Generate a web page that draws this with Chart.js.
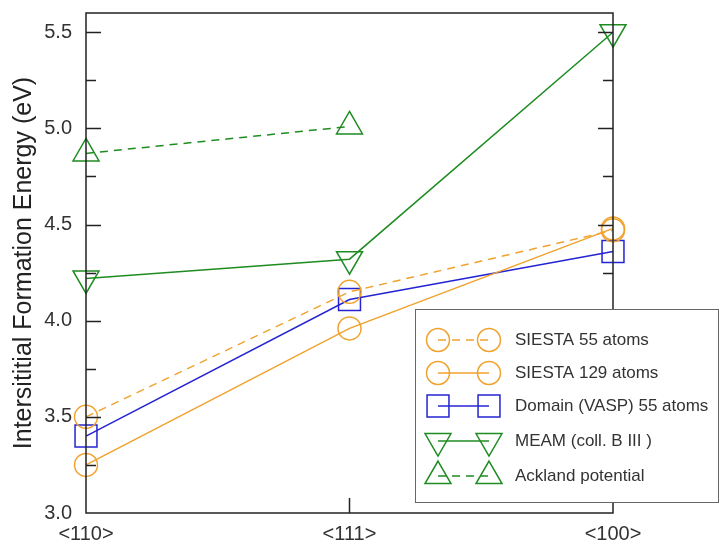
<!DOCTYPE html>
<html>
<head>
<meta charset="utf-8">
<script src="https://cdn.jsdelivr.net/npm/chart.js@4.4.1/dist/chart.umd.min.js"></script>
<style>
html, body { margin: 0; padding: 0; background: #fff; overflow: hidden; }
/* the marker overflow keeps the plot 4px lower than wanted, so lift the canvas */
#energyChart { display: block; margin-top: -4px; }
</style>
</head>
<body>
<canvas id="energyChart" width="721" height="547"></canvas>
<script>
// interstitial formation energy per dumbbell direction (eV)
const directions = ["<110>", "<111>", "<100>"];
const siesta55 = [3.50, 4.15, 4.47];
const siesta129 = [3.25, 3.96, 4.48];
const vaspDomain = [3.40, 4.11, 4.36];
const meam = [4.22, 4.32, 5.50];
const ackland = [4.87, 5.01, null];
const seriesNames = ["SIESTA 55 atoms", "SIESTA 129 atoms", "Domain (VASP) 55 atoms", "MEAM (coll. B III )", "Ackland potential"];

const ORANGE = "#f0a22e";
const BLUE = "#2424d2";
const GREEN = "#1f8c22";
const FONT = "'Liberation Sans', Arial, sans-serif";

function series(label, data, color, style, radius, rotation, dash) {
    return {
        label: label,
        data: data,
        borderColor: color,
        borderWidth: 1.5,
        borderDash: dash,
        backgroundColor: "transparent",
        pointStyle: style,
        pointRadius: radius,
        pointRotation: rotation,
        pointBorderColor: color,
        pointBackgroundColor: "transparent",
        pointBorderWidth: 1.5,
        tension: 0,
        spanGaps: false
    };
}

function noPadding(s) {
    s.paddingLeft = 0;
    s.paddingRight = 0;
    s.paddingTop = 0;
    s.paddingBottom = 0;
}

// box with inward ticks on left, right and bottom
const frameTicks = {
    id: "frameTicks",
    afterDatasetsDraw(chart) {
        const { ctx, chartArea: a, scales } = chart;
        ctx.save();
        ctx.strokeStyle = "#222";
        ctx.lineWidth = 1.5;
        ctx.strokeRect(a.left, a.top, a.right - a.left, a.bottom - a.top);
        for (let k = 1; k <= 10; k++) {
            const py = Math.round(scales.y.getPixelForValue(3 + k * 0.25)) + 0.5;
            const len = k % 2 === 0 ? 15 : 10;
            ctx.beginPath();
            ctx.moveTo(a.left, py); ctx.lineTo(a.left + len, py);
            ctx.moveTo(a.right, py); ctx.lineTo(a.right - len, py);
            ctx.stroke();
        }
        const px = scales.x.getPixelForValue(1);
        ctx.beginPath();
        ctx.moveTo(px, a.bottom); ctx.lineTo(px, a.bottom - 15);
        ctx.stroke();
        ctx.restore();
    }
};

// boxed legend with two markers joined by the series line
const boxLegend = {
    id: "boxLegend",
    afterDraw(chart) {
        const ctx = chart.ctx;
        const top = 313;
        const rows = [344, 377, 410, 445, 480];
        ctx.save();
        ctx.fillStyle = "#fff";
        ctx.fillRect(415, top, 304, 193);
        ctx.strokeStyle = "#666";
        ctx.lineWidth = 1;
        ctx.strokeRect(415.5, top + 0.5, 303, 193);
        chart.data.datasets.forEach((ds, i) => {
            const y = rows[i];
            ctx.strokeStyle = ds.borderColor;
            ctx.lineWidth = 1.5;
            ctx.setLineDash(ds.borderDash || []);
            ctx.beginPath();
            ctx.moveTo(438, y); ctx.lineTo(489, y);
            ctx.stroke();
            ctx.setLineDash([]);
            ctx.fillStyle = "transparent";
            [438, 489].forEach(mx => {
                Chart.helpers.drawPoint(ctx, {
                    pointStyle: ds.pointStyle,
                    radius: ds.pointRadius,
                    rotation: ds.pointRotation,
                    borderWidth: 1.5
                }, mx, y);
            });
            ctx.fillStyle = "#333";
            ctx.font = "17px " + FONT;
            ctx.textBaseline = "middle";
            ctx.fillText(seriesNames[i], 515, y);
        });
        ctx.restore();
    }
};

new Chart(document.getElementById("energyChart"), {
    type: "line",
    data: {
        labels: directions,
        datasets: [
            series(seriesNames[0], siesta55, ORANGE, "circle", 11.5, 0, [8, 6]),
            series(seriesNames[1], siesta129, ORANGE, "circle", 11.5, 0, []),
            series(seriesNames[2], vaspDomain, BLUE, "rect", 15.5, 0, []),
            series(seriesNames[3], meam, GREEN, "triangle", 15, 180, []),
            series(seriesNames[4], ackland, GREEN, "triangle", 15, 0, [8, 6])
        ]
    },
    options: {
        responsive: false,
        animation: false,
        layout: { padding: { top: 0, right: 108, left: 0, bottom: 0 } },
        plugins: {
            legend: { display: false },
            tooltip: { enabled: false }
        },
        scales: {
            x: {
                type: "category",
                offset: false,
                grid: { display: false, drawTicks: false },
                border: { display: false },
                ticks: { color: "#333", font: { family: FONT, size: 20 }, padding: 9, maxRotation: 0 },
                afterFit(s) {
                    s.height = 30;
                    noPadding(s);
                }
            },
            y: {
                min: 3.0,
                max: 5.6,
                grid: { display: false, drawTicks: false },
                border: { display: false },
                ticks: {
                    stepSize: 0.5,
                    includeBounds: false,
                    color: "#333",
                    font: { family: FONT, size: 20 },
                    padding: 14,
                    callback: v => v.toFixed(1)
                },
                title: {
                    display: true,
                    text: "Intersititial Formation Energy (eV)",
                    color: "#222",
                    font: { family: FONT, size: 25 },
                    padding: { top: 9, bottom: 0 }
                },
                afterFit(s) {
                    s.width = 86;
                    noPadding(s);
                }
            }
        }
    },
    plugins: [frameTicks, boxLegend]
});
</script>
</body>
</html>
